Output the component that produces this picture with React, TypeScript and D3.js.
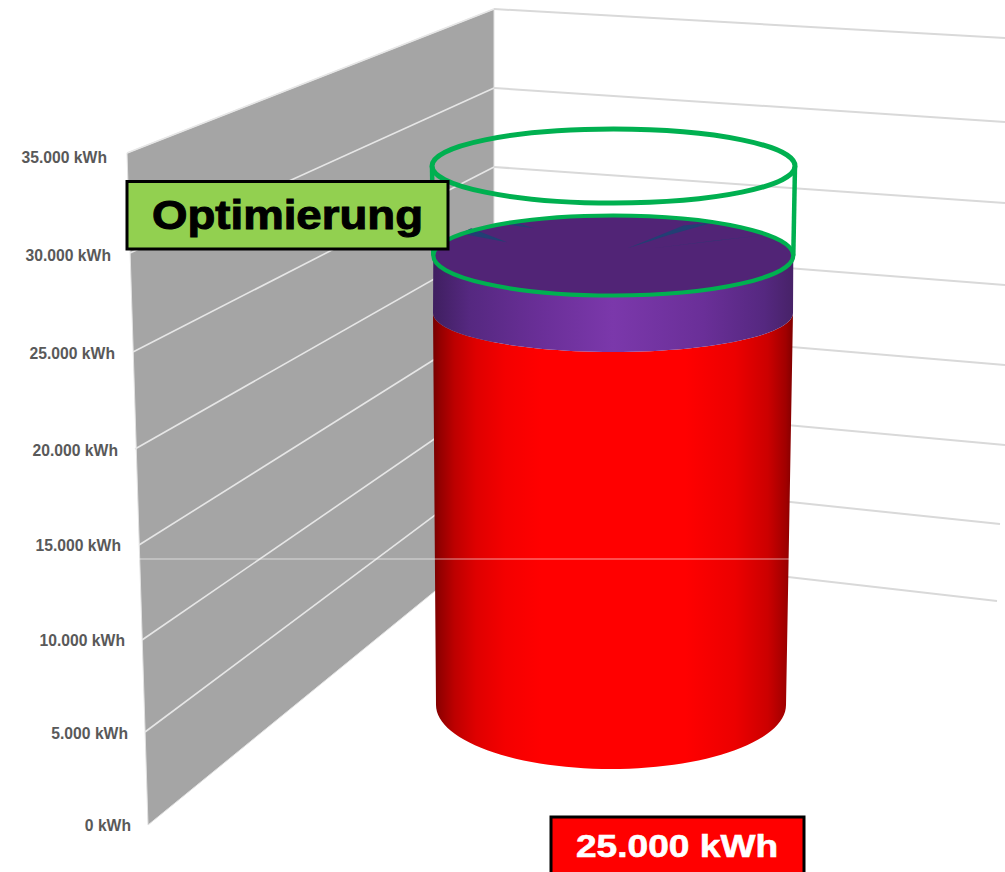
import React from "react";
import * as d3 from "d3";

// ---- chart values ----
const tickValues = [0, 5000, 10000, 15000, 20000, 25000, 30000, 35000];
const tickLabels = ["0 kWh", "5.000 kWh", "10.000 kWh", "15.000 kWh", "20.000 kWh", "25.000 kWh", "30.000 kWh", "35.000 kWh"];
const redValue = 25000;
const purpleValue = 28500;
const targetValue = 34000;
const barLabel = "25.000 kWh";
const noteLabel = "Optimierung";
// slivers on the purple top, in unit-disk coordinates of its ellipse
const slivers = [
  [[0.08, -0.18], [0.39, -0.75], [0.56, -0.83], [0.3, -0.5]],
  [[0.22, -0.18], [0.82, -0.5], [0.58, -0.38]],
  [[-0.85, -0.55], [-0.59, -0.33], [-0.79, -0.68]],
  [[-0.63, -0.8], [-0.44, -0.68], [-0.56, -0.85]],
];

// ---- perspective scales ----
const wallFrontY = d3.scaleLinear().domain(tickValues).range([825, 732, 640, 545, 449, 352, 253, 153]);
const wallFrontX = d3.scaleLinear().domain(tickValues).range([148, 145, 142, 139, 135, 133, 130, 127]);
const cornerX = 494;
const cornerY = d3.scaleLinear().domain(tickValues).range([543, 471, 398, 322, 245, 167, 88, 9]);
const rightX = d3.scaleLinear().domain(tickValues).range([997, 1000, 1005, 1005, 1005, 1005, 1005, 1005]);
const rightY = d3.scaleLinear().domain(tickValues).range([601, 524, 445, 365, 285, 203, 122, 38]);
const labelX = d3.scaleLinear().domain(tickValues).range([131, 128, 125, 121, 118, 115, 111, 107]);
const labelY = d3.scaleLinear().domain(tickValues).range([831, 739, 646, 551, 456, 359, 261, 163]);

const barDomain = [0, redValue, purpleValue, targetValue];
const barY = d3.scaleLinear().domain(barDomain).range([705, 313, 255.5, 166]);
const barRx = d3.scaleLinear().domain(barDomain).range([175, 180, 180, 181.5]);
const barRy = d3.scaleLinear().domain(barDomain).range([64, 39, 40, 37]);
const barCx = d3.scaleLinear().domain(barDomain).range([611, 613, 613.3, 613.5]);

const line = d3.line<[number, number]>().x((d) => d[0]).y((d) => d[1]);
const angles = d3.range(0, 181, 3).map((d) => (d * Math.PI) / 180);

// front arc of a bar level, from right to left
const frontArc = (v: number): [number, number][] =>
  angles.map((a) => [barCx(v) + barRx(v) * Math.cos(a), barY(v) + barRy(v) * Math.sin(a)]);

const bodyPath = (v0: number, v1: number) =>
  line([...frontArc(v0), ...frontArc(v1).reverse()]) + "Z";

const Level = ({ v, ...rest }: any) => (
  <ellipse cx={barCx(v)} cy={barY(v)} rx={barRx(v)} ry={barRy(v)} {...rest} />
);

const GREEN = "#00b050";
const font = "'Liberation Sans', Arial, sans-serif";

export default function App() {
  const wall = line([
    [wallFrontX(35000), wallFrontY(35000)],
    [cornerX, cornerY(35000)],
    [cornerX, cornerY(0)],
    [wallFrontX(0), wallFrontY(0)],
  ]) + "Z";

  return (
    <svg width={1005} height={872} style={{ position: "absolute", left: 0, top: 0, display: "block" }}>
      <defs>
        <linearGradient id="red" x1="0" x2="1" y1="0" y2="0">
          <stop offset="0" stopColor="#760000" />
          <stop offset="0.02" stopColor="#940000" />
          <stop offset="0.06" stopColor="#bd0000" />
          <stop offset="0.12" stopColor="#df0000" />
          <stop offset="0.2" stopColor="#f40000" />
          <stop offset="0.3" stopColor="#ff0000" />
          <stop offset="0.7" stopColor="#ff0000" />
          <stop offset="0.84" stopColor="#ec0000" />
          <stop offset="0.93" stopColor="#cc0000" />
          <stop offset="0.98" stopColor="#a00000" />
          <stop offset="1" stopColor="#800000" />
        </linearGradient>
        <linearGradient id="purple" x1="0" x2="1" y1="0" y2="0">
          <stop offset="0" stopColor="#3f1f60" />
          <stop offset="0.1" stopColor="#552880" />
          <stop offset="0.3" stopColor="#6a2f98" />
          <stop offset="0.5" stopColor="#7b38ab" />
          <stop offset="0.75" stopColor="#6a2f98" />
          <stop offset="0.92" stopColor="#552880" />
          <stop offset="1" stopColor="#472268" />
        </linearGradient>
      </defs>

      <path d={wall} fill="#a5a5a5" stroke="#e2e2e2" strokeWidth={1} />

      {tickValues.map((v) => (
        <g key={v} fill="none">
          <path
            d={line([[wallFrontX(v), wallFrontY(v)], [cornerX, cornerY(v)]])!}
            stroke="#e6e6e6"
            strokeWidth={v === 0 ? 0 : 1.6}
          />
          <path
            d={line([[cornerX, cornerY(v)], [rightX(v), rightY(v)]])!}
            stroke="#d9d9d9"
            strokeWidth={2}
          />
        </g>
      ))}

      {tickValues.map((v, i) => (
        <text
          key={v}
          x={labelX(v)}
          y={labelY(v)}
          textAnchor="end"
          fontFamily={font}
          fontWeight="bold"
          fontSize={15.7}
          fill="#595959"
        >
          {tickLabels[i]}
        </text>
      ))}

      <Level v={targetValue} fill="none" stroke={GREEN} strokeWidth={5} />
      <path
        d={line([
          [barCx(targetValue) - barRx(targetValue), barY(targetValue)],
          [barCx(purpleValue) - barRx(purpleValue), barY(purpleValue)],
        ])!}
        stroke={GREEN}
        strokeWidth={4.5}
      />
      <path
        d={line([
          [barCx(targetValue) + barRx(targetValue), barY(targetValue)],
          [barCx(purpleValue) + barRx(purpleValue), barY(purpleValue)],
        ])!}
        stroke={GREEN}
        strokeWidth={4.5}
      />

      <path d={bodyPath(0, redValue)} fill="url(#red)" />
      <path d={bodyPath(redValue, purpleValue)} fill="url(#purple)" />
      <Level v={purpleValue} fill="#512476" />
      {slivers.map((s, i) => (
        <path
          key={i}
          fill="#223f74"
          d={line(
            s.map((p) => [
              barCx(purpleValue) + p[0] * barRx(purpleValue),
              barY(purpleValue) + p[1] * barRy(purpleValue),
            ] as [number, number]),
          ) + "Z"}
        />
      ))}
      <Level v={purpleValue} fill="none" stroke={GREEN} strokeWidth={4.2} />

      <path
        d={line([[wallFrontX(15000), 559], [790, 559]])!}
        stroke="#ffffff"
        strokeOpacity={0.6}
        strokeWidth={1}
      />

      <rect x={127} y={181.5} width={321} height={67.5} fill="#92d050" stroke="#000" strokeWidth={3} />
      <text
        transform="translate(287.5 229) scale(1.14 1)"
        textAnchor="middle"
        fontFamily={font}
        fontWeight="bold"
        fontSize={40}
        stroke="#000"
        strokeWidth={1}
        fill="#000"
      >
        {noteLabel}
      </text>

      <rect x={551} y={817} width={253} height={70} fill="#ff0000" stroke="#000" strokeWidth={3} />
      <text
        transform="translate(677 857) scale(1.16 1)"
        textAnchor="middle"
        fontFamily={font}
        fontWeight="bold"
        fontSize={32}
        stroke="#fff"
        strokeWidth={0.6}
        fill="#fff"
      >
        {barLabel}
      </text>
    </svg>
  );
}
